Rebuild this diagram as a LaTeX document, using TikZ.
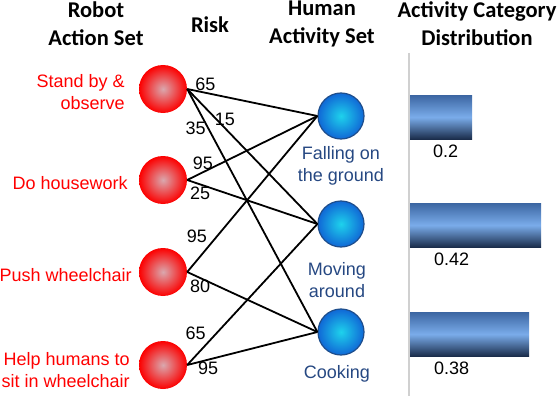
\documentclass[tikz,border=0pt]{standalone}
\usepackage{fontspec}
\setmainfont{Liberation Sans}
\newfontfamily\headfont{Carlito}
\usetikzlibrary{positioning}

\definecolor{ballmid}{RGB}{218,168,174}
\definecolor{ballred}{RGB}{252,0,0}
\definecolor{humin}{RGB}{30,210,236}
\definecolor{humout}{RGB}{16,104,214}
\definecolor{humrim}{RGB}{30,78,140}
\definecolor{humtext}{RGB}{38,72,130}
\definecolor{bartop}{RGB}{60,102,162}
\definecolor{barmid}{RGB}{122,172,234}
\definecolor{barbot}{RGB}{26,44,74}
\definecolor{sepgray}{RGB}{208,208,208}

\begin{document}
\begin{tikzpicture}[
  x=1pt, y=-1pt,
  font=\fontsize{18}{22}\selectfont,
  head/.style={font=\headfont\bfseries\fontsize{22.5}{28}\selectfont, align=center},
  robot/.style={circle, minimum size=48pt, inner sep=0pt, inner color=ballmid, outer color=ballred},
  human/.style={circle, minimum size=46pt, inner sep=0pt, draw=humrim, line width=1.2pt, inner color=humin, outer color=humout},
  act/.style={text=red, align=right, inner sep=0pt},
  hum/.style={text=humtext, align=center, inner sep=0pt},
  risk/.style={inner sep=1.5pt},
  bar/.style={rectangle, anchor=north west, minimum height=44pt, inner sep=0pt, top color=bartop, bottom color=barbot, middle color=barmid},
  val/.style={anchor=north west, inner sep=0pt},
  link/.style={line width=1.8pt},
  node distance=8pt
]
\useasboundingbox (0,0) rectangle (560,396);

\node[head] (hrobot) at (96,24) {Robot\\Action Set};
\node[head] (hrisk) at (210,25) {Risk};
\node[head] (hhuman) at (322,24) {Human\\Activity Set};
\node[head] (hdist) at (477,24) {Activity Category\\Distribution};

\node[robot] (a1) at (163,89) {};
\node[robot] (a2) at (163,180) {};
\node[robot] (a3) at (163,272) {};
\node[robot] (a4) at (163,365) {};

\node[act, left=14pt of a1, yshift=-3pt] (t1) {Stand by \&\\observe};
\node[act, left=11pt of a2, yshift=-3pt] (t2) {Do housework};
\node[act, left=7pt of a3, yshift=-3pt] (t3) {Push wheelchair};
\node[act, left=9pt of a4, yshift=-5pt] (t4) {Help humans to\\sit in wheelchair};

\node[human] (h1) at (341,116) {};
\node[human] (h2) at (341,224) {};
\node[human] (h3) at (341,332) {};

\node[hum, below=7pt of h1] (u1) {Falling on\\the ground};
\node[hum, below=15pt of h2, xshift=-4pt] (u2) {Moving\\around};
\node[hum, below=10pt of h3, xshift=-4pt] (u3) {Cooking};

\draw[link] (a1.east) -- node[risk, pos=0.14, above] {65} (h1.west);
\draw[link] (a1.east) -- node[risk, pos=0.29, above] {15} (h2.west);
\draw[link] (a1.east) -- node[risk, pos=0.16, left] {35} (h3.west);
\draw[link] (a2.east) -- node[risk, pos=0.12, above] {95} (h1.west);
\draw[link] (a2.east) -- node[risk, pos=0.1, below] {25} (h2.west);
\draw[link] (a3.east) -- node[risk, pos=0.17, above left] {95} (h1.west);
\draw[link] (a3.east) -- node[risk, pos=0.1, below] {80} (h3.west);
\draw[link] (a4.east) -- node[risk, pos=0.16, above left] {65} (h2.west);
\draw[link] (a4.east) -- node[risk, pos=0.16, below] {95} (h3.west);

\coordinate (septop) at (409,53);
\coordinate (sepbot) at (409,396);
\draw[sepgray, line width=1.5pt] (septop) -- (sepbot);

\node[bar, minimum width=62pt] (b1) at (410,95) {};
\node[bar, minimum width=131pt] (b2) at (410,203) {};
\node[bar, minimum width=119pt] (b3) at (410,312) {};

\node[val] (v1) at ([xshift=23pt, yshift=-5pt]b1.south west) {0.2};
\node[val] (v2) at ([xshift=24pt, yshift=-5pt]b2.south west) {0.42};
\node[val] (v3) at ([xshift=24pt, yshift=-5pt]b3.south west) {0.38};
\end{tikzpicture}
\end{document}
